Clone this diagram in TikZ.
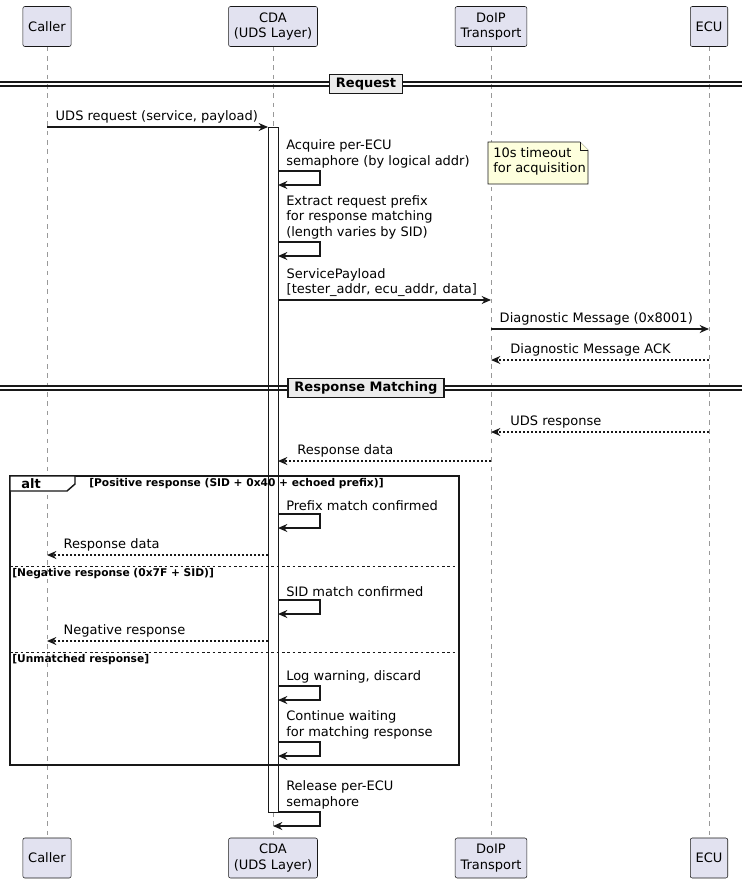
\documentclass[tikz,border=0pt]{standalone}
\usepackage{fontspec}
\setmainfont{DejaVu Sans}
\usetikzlibrary{arrows.meta,positioning}
\definecolor{part}{HTML}{E2E2F0}
\definecolor{notec}{HTML}{FEFFDD}
\definecolor{bd}{HTML}{181818}
\begin{document}
\begin{tikzpicture}[x=0.75pt,y=-0.75pt,
  every node/.style={font=\fontsize{9.75}{11.5}\selectfont,inner sep=0pt},
  part/.style={draw=bd,fill=part,rounded corners=1.5pt,minimum height=30pt,inner xsep=4pt,align=center,line width=0.4pt},
  life/.style={draw=gray!80,dash pattern=on 3.5pt off 3.5pt,line width=0.4pt},
  msg/.style={draw=bd,line width=1.1pt,-{Stealth[length=7pt,width=6pt]}},
  rmsg/.style={msg,dash pattern=on 1.5pt off 1.5pt},
  lbl/.style={anchor=south west,align=left},
  sep/.style={draw=bd,line width=0.8pt},
  seplbl/.style={draw=bd,fill=gray!15,line width=1.1pt,font=\fontsize{9.75}{11}\selectfont\bfseries,inner xsep=5pt,inner ysep=2.5pt},
  cond/.style={font=\fontsize{8}{9}\selectfont\bfseries,anchor=west},
]
\useasboundingbox (0,0) rectangle (742,888);
% participants
\foreach \n/\x/\t in {caller/47/Caller,cda/273/{CDA\\(UDS Layer)},doip/491/{DoIP\\Transport},ecu/709/ECU}{
  \node[part] (\n top) at (\x,26.5) {\t};
  \node[part] (\n bot) at (\x,858) {\t};
  \draw[life] (\n top.south) -- (\n bot.north);
}
% activation
\node[draw=bd,fill=white,minimum width=7.5pt,minimum height={(812-127)*0.75pt},anchor=north,line width=0.4pt] (act) at (273,127) {};
% separators
\newcommand{\sepline}[3]{%
  \draw[sep] (0,#1-2) -- (742,#1-2); \draw[sep] (0,#1+2) -- (742,#1+2);
  \node[seplbl] (#3) at (366,#1) {#2};}
\sepline{84}{Request}{sepreq}
\sepline{388}{Response Matching}{sepresp}
% self message macro
\newcommand{\selfm}[4]{% y1, y2, text, name
  \coordinate (#4a) at (278,#1); \coordinate (#4b) at (320,#1);
  \coordinate (#4c) at (320,#2); \coordinate (#4d) at (278,#2);
  \draw[msg] (#4a) -- (#4b) -- (#4c) -- (#4d);
  \node[lbl] (#4t) at (286,#1-3) {#3};}
% messages
\coordinate (m1a) at (47,127); \coordinate (m1b) at (268,127);
\draw[msg] (m1a) -- (m1b) node[lbl,pos=0,xshift=6pt,yshift=2pt] (m1t) {UDS request (service, payload)};
\selfm{171}{185}{Acquire per-ECU\\semaphore (by logical addr)}{s1}
\coordinate (n1) at (488,142); \coordinate (n2) at (588,142); \coordinate (n3) at (588,184);
\draw[bd,fill=notec,line width=0.4pt] (488,142) -- (580,142) -- (588,150) -- (588,184) -- (488,184) -- cycle;
\draw[bd,fill=notec,line width=0.4pt] (580,142) -- (580,150) -- (588,150);
\node[anchor=north west,align=left] (notet) at (493,147) {10s timeout\\for acquisition};
\selfm{242}{256}{Extract request prefix\\for response matching\\(length varies by SID)}{s2}
\coordinate (m2a) at (278,300); \coordinate (m2b) at (491,300);
\draw[msg] (m2a) -- (m2b) node[lbl,pos=0,xshift=6pt,yshift=2pt,align=left] (m2t) {ServicePayload\\{}[tester\_addr, ecu\_addr, data]};
\coordinate (m3a) at (491,329); \coordinate (m3b) at (709,329);
\draw[msg] (m3a) -- (m3b) node[lbl,pos=0,xshift=6pt,yshift=2pt] (m3t) {Diagnostic Message (0x8001)};
\coordinate (m4a) at (709,360); \coordinate (m4b) at (491,360);
\draw[rmsg] (m4a) -- (m4b) node[lbl,pos=1,xshift=14pt,yshift=2pt] (m4t) {Diagnostic Message ACK};
\coordinate (m5a) at (709,432); \coordinate (m5b) at (491,432);
\draw[rmsg] (m5a) -- (m5b) node[lbl,pos=1,xshift=14pt,yshift=2pt] (m5t) {UDS response};
\coordinate (m6a) at (491,461); \coordinate (m6b) at (278,461);
\draw[rmsg] (m6a) -- (m6b) node[lbl,pos=1,xshift=14pt,yshift=2pt] (m6t) {Response data};
% alt
\coordinate (altA) at (10,476); \coordinate (altB) at (459,765);
\draw[bd,line width=1.1pt] (altA) rectangle (altB);
\draw[bd,line width=1.1pt,fill=white] (10,476) -- (75,476) -- (75,484) -- (67,491) -- (10,491) -- cycle;
\node[font=\fontsize{9.75}{11}\selectfont\bfseries] (altt) at (31,483.5) {alt};
\node[cond] (c1) at (89,484) {[Positive response (SID + 0x40 + echoed prefix)]};
\selfm{514}{528}{Prefix match confirmed}{s3}
\coordinate (m7a) at (268,555); \coordinate (m7b) at (47,555);
\draw[rmsg] (m7a) -- (m7b) node[lbl,pos=1,xshift=12pt,yshift=2pt] (m7t) {Response data};
\draw[bd,line width=0.5pt,dash pattern=on 2pt off 2pt] (10,566) -- (459,566);
\node[cond] (c2) at (12,574) {[Negative response (0x7F + SID)]};
\selfm{600}{614}{SID match confirmed}{s4}
\coordinate (m8a) at (268,641); \coordinate (m8b) at (47,641);
\draw[rmsg] (m8a) -- (m8b) node[lbl,pos=1,xshift=12pt,yshift=2pt] (m8t) {Negative response};
\draw[bd,line width=0.5pt,dash pattern=on 2pt off 2pt] (10,652) -- (459,652);
\node[cond] (c3) at (12,660) {[Unmatched response]};
\selfm{686}{700}{Log warning, discard}{s5}
\selfm{742}{756}{Continue waiting\\for matching response}{s6}
% release
\coordinate (r1) at (278,812); \coordinate (r2) at (320,812); \coordinate (r3) at (320,826); \coordinate (r4) at (273,826);
\draw[msg] (r1) -- (r2) -- (r3) -- (r4);
\node[lbl] (rt) at (286,809) {Release per-ECU\\semaphore};
\end{tikzpicture}
\end{document}
